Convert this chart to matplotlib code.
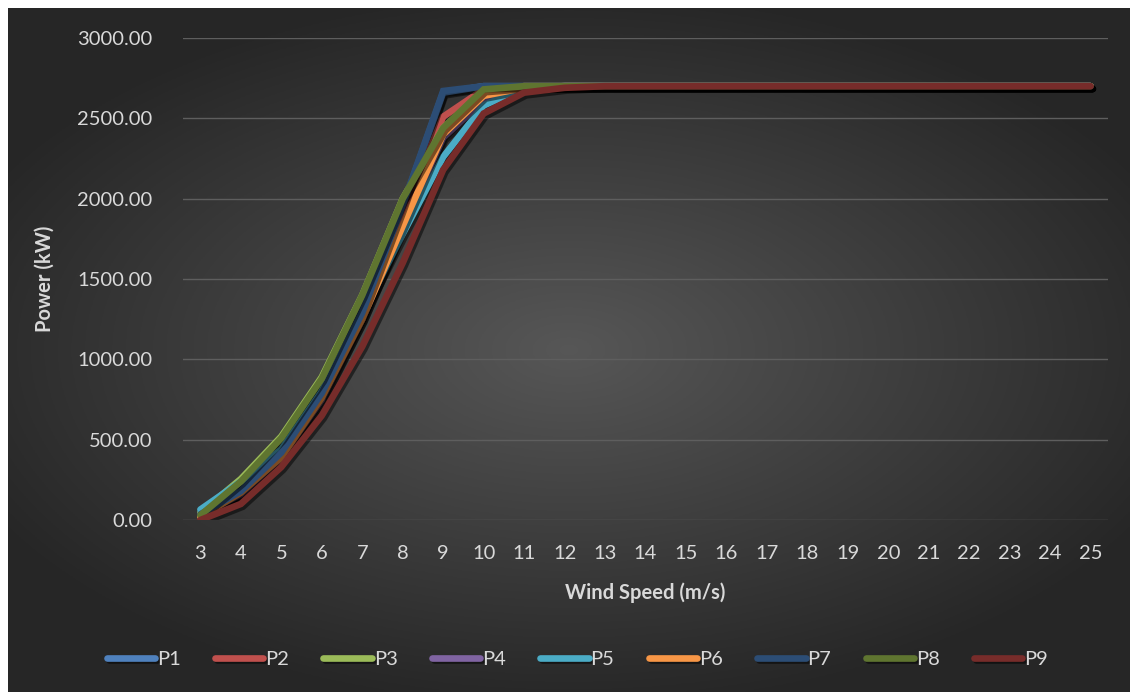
import matplotlib.pyplot as plt
import matplotlib.patheffects as pe
import numpy as np

plt.rcParams['font.family'] = ['Lato', 'DejaVu Sans']

wind_speed = list(range(3, 26))
tail = [2700] * 14

P1 = [40, 200, 420, 800, 1300, 1950, 2660, 2700, 2700] + tail
P2 = [30, 170, 400, 780, 1270, 1900, 2510, 2680, 2700] + tail
P3 = [45, 255, 520, 890, 1400, 2000, 2440, 2670, 2700] + tail
P4 = [30, 160, 390, 750, 1250, 1820, 2380, 2610, 2690] + tail
P5 = [65, 240, 440, 800, 1280, 1780, 2260, 2580, 2690] + tail
P6 = [20, 170, 390, 760, 1250, 1830, 2400, 2640, 2690] + tail
P7 = [35, 180, 420, 790, 1290, 1960, 2670, 2700, 2700] + tail
P8 = [30, 240, 510, 880, 1400, 2000, 2440, 2680, 2700] + tail
P9 = [0, 100, 330, 650, 1080, 1600, 2180, 2530, 2660, 2690] + [2700] * 13

series = [P1, P2, P3, P4, P5, P6, P7, P8, P9]
names = ['P1', 'P2', 'P3', 'P4', 'P5', 'P6', 'P7', 'P8', 'P9']
colors = ['#4F81BD', '#C0504D', '#9BBB59', '#8064A2', '#4BACC6',
          '#F79646', '#2C4D75', '#5F7530', '#772C2A']

fig = plt.figure(figsize=(11.32, 6.92), dpi=100)
fig.patch.set_facecolor('white')

# dark radial gradient background
bg = fig.add_axes([8 / 1132, 0, 1122 / 1132, 684 / 692])
bg.set_axis_off()
yy, xx = np.mgrid[-1:1:300j, -1:1:500j]
r = np.sqrt((xx * 0.9) ** 2 + (yy * 1.0) ** 2)
shade = np.clip(0.34 - 0.18 * r, 0.15, 0.34)
bg.imshow(np.dstack([shade] * 3), aspect='auto', extent=[0, 1, 0, 1])

ax = fig.add_axes([183 / 1132, 1 - 520 / 692, 925 / 1132, 482 / 692])
ax.set_facecolor('none')

for vals, name, c in zip(series, names, colors):
    ax.plot(wind_speed, vals, color=c, lw=4.8, label=name,
            solid_capstyle='round', solid_joinstyle='miter',
            path_effects=[pe.SimpleLineShadow(offset=(1.5, -2), shadow_color='black', alpha=0.5),
                          pe.Normal()])

ax.set_xlim(2.57, 25.43)
ax.set_ylim(0, 3000)
ax.set_xticks(wind_speed)
ax.set_yticks(np.arange(0, 3001, 500))
ax.set_yticklabels(['%.2f' % v for v in np.arange(0, 3001, 500)])
ax.tick_params(length=0, colors='#d9d9d9', labelsize=14.5)
ax.tick_params(axis='x', pad=18)
ax.tick_params(axis='y', pad=22)
ax.grid(axis='y', color='#5e5e5e', lw=1)
ax.set_axisbelow(True)
for s in ax.spines.values():
    s.set_visible(False)

ax.set_xlabel('Wind Speed (m/s)', color='#d9d9d9', fontsize=14.5, fontweight='bold', labelpad=15)
ax.set_ylabel('Power (kW)', color='#d9d9d9', fontsize=14.5, fontweight='bold', labelpad=16)

leg = fig.legend(loc='center', bbox_to_anchor=(0.51, 1 - 659 / 692), ncol=9, frameon=False,
                 fontsize=14.5, handlelength=2.4, columnspacing=1.7, handletextpad=0.1)
for t in leg.get_texts():
    t.set_color('#d9d9d9')

fig.savefig('out.png', dpi=100)
